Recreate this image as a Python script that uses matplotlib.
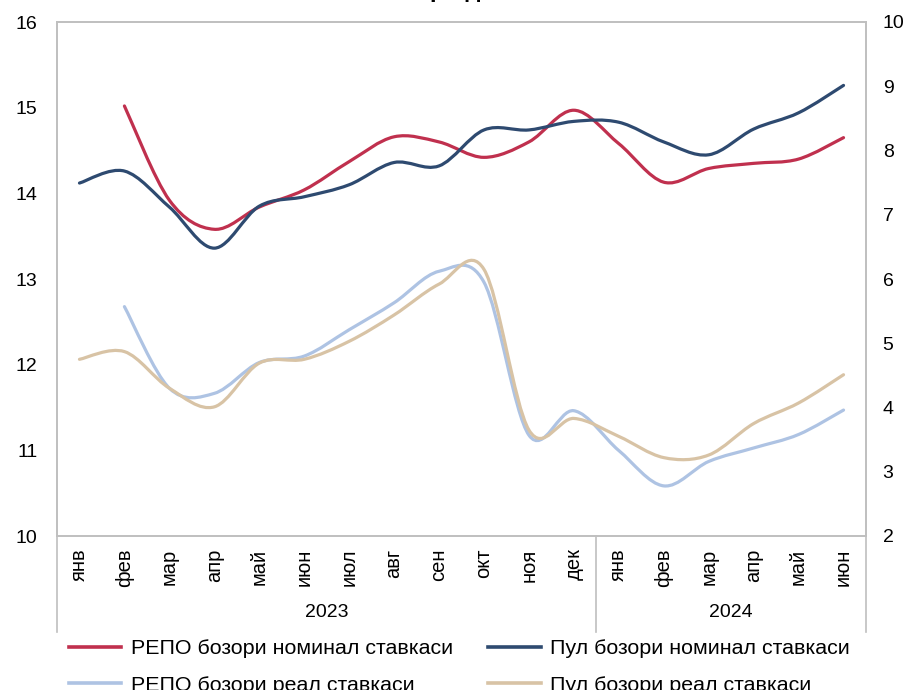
import matplotlib
matplotlib.use('Agg')
import matplotlib.pyplot as plt
from matplotlib.path import Path
from matplotlib.patches import PathPatch
from matplotlib.lines import Line2D
import matplotlib.transforms as mtransforms
import numpy as np

plt.rcParams['font.family'] = ['Liberation Sans', 'DejaVu Sans']

months = ['янв', 'фев', 'мар', 'апр', 'май', 'июн', 'июл', 'авг', 'сен', 'окт', 'ноя', 'дек',
          'янв', 'фев', 'мар', 'апр', 'май', 'июн']
years = ['2023', '2024']
year_sizes = [12, 6]

# nominal rates, left axis
repo_nom = [None, 15.02, 13.92, 13.58, 13.84, 14.04, 14.37, 14.66, 14.60, 14.42, 14.60, 14.97,
            14.58, 14.13, 14.29, 14.35, 14.40, 14.65]
pul_nom = [14.12, 14.26, 13.84, 13.36, 13.85, 13.96, 14.10, 14.36, 14.32, 14.74, 14.74, 14.84,
           14.83, 14.60, 14.45, 14.75, 14.94, 15.26]
# real rates, right axis
repo_real = [None, 5.57, 4.30, 4.22, 4.70, 4.80, 5.21, 5.63, 6.12, 5.95, 3.57, 3.95,
             3.33, 2.78, 3.16, 3.37, 3.58, 3.96]
pul_real = [4.75, 4.87, 4.30, 4.01, 4.69, 4.75, 5.03, 5.44, 5.92, 6.15, 3.65, 3.83,
            3.55, 3.22, 3.26, 3.75, 4.07, 4.51]

labels = ['РЕПО бозори номинал ставкаси', 'Пул бозори номинал ставкаси',
          'РЕПО бозори реал ставкаси', 'Пул бозори реал ставкаси']
colors = ['#C0304E', '#2E4A70', '#AEC3E3', '#D8C3A5']

GRID = '#BFBFBF'


def smooth_path(values):
    # excel-like smoothed line: catmull-rom converted to bezier segments
    pts = [(i, v) for i, v in enumerate(values) if v is not None]
    pts = np.array(pts, dtype=float)
    n = len(pts)
    verts = [pts[0]]
    codes = [Path.MOVETO]
    for i in range(n - 1):
        p0 = pts[i - 1] if i > 0 else pts[i]
        p1 = pts[i]
        p2 = pts[i + 1]
        p3 = pts[i + 2] if i + 2 < n else pts[i + 1]
        c1 = p1 + (p2 - p0) / 6.0
        c2 = p2 - (p3 - p1) / 6.0
        verts += [c1, c2, p2]
        codes += [Path.CURVE4] * 3
    return Path(verts, codes)


fig = plt.figure(figsize=(9.09, 6.9), dpi=100)
ax = fig.add_axes([57 / 909, 1 - 536 / 690, (866 - 57) / 909, 514 / 690])
ax2 = ax.twinx()

x = np.arange(len(months))
ax.set_xlim(-0.5, len(months) - 0.5)
ax.set_ylim(10, 16)
ax2.set_ylim(2, 10)
ax.set_yticks(range(10, 17))
ax2.set_yticks(range(2, 11))

for a, series, col in [(ax, repo_nom, colors[0]), (ax, pul_nom, colors[1]),
                       (ax2, repo_real, colors[2]), (ax2, pul_real, colors[3])]:
    a.add_patch(PathPatch(smooth_path(series), fill=False, edgecolor=col, lw=2.3,
                          capstyle='round', joinstyle='round'))

for a in (ax, ax2):
    for s in a.spines.values():
        s.set_color(GRID)
        s.set_linewidth(1.2)

ax.set_xticks(x)
ax.set_xticklabels(months, rotation=90, fontsize=14.5, va='top')
ax.tick_params(axis='x', length=0, pad=9)
ax.tick_params(axis='y', length=0, pad=14, labelsize=14)
ax2.tick_params(axis='y', length=0, pad=12, labelsize=14)

# year groups below the month labels
trans = mtransforms.blended_transform_factory(ax.transData, ax.transAxes)
edges = np.concatenate([[0], np.cumsum(year_sizes)]) - 0.5
for e in edges:
    ax.add_line(Line2D([e, e], [0, -0.187], transform=trans, color=GRID, lw=1.2, clip_on=False))
for yr, lo, hi in zip(years, edges[:-1], edges[1:]):
    ax.text((lo + hi) / 2, -0.148, yr, transform=trans, ha='center', va='center', fontsize=14)

# legend fills by column, so order the entries to read row by row
handles = [Line2D([], [], color=c, lw=2.6) for c in colors]
order = [0, 2, 1, 3]
fig.legend([handles[i] for i in order], [labels[i] for i in order], ncol=2, loc='upper left',
           bbox_to_anchor=(69 / 909, 1 - 639 / 690), frameon=False, fontsize=15.4,
           handlelength=2.45, handletextpad=0.45, columnspacing=1.65, labelspacing=0.82,
           borderaxespad=0, borderpad=0)

# title sits mostly above the visible canvas
fig.text(0.475, 1 + 3 / 690, 'Фоиз ставкалари динамикаси', ha='center', va='baseline',
         fontsize=17, fontweight='bold')

fig.savefig('out.png', dpi=100)
